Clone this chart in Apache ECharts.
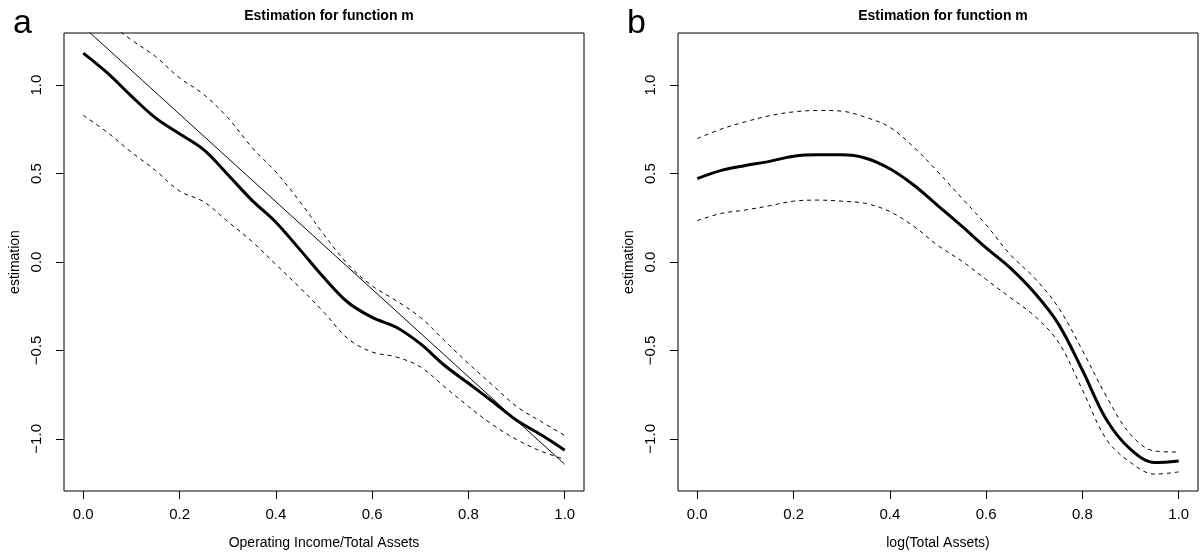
<!DOCTYPE html>
<html>
<head>
<meta charset="utf-8">
<script src="https://cdn.jsdelivr.net/npm/echarts@6/dist/echarts.min.js"></script>
<style>
  html, body { margin: 0; padding: 0; background: #fff; }
  #main { width: 1201px; height: 555px; }
</style>
</head>
<body>
<div id="main"></div>
<script>
// x positions where the curves were read (both panels)
const xs = [0, 0.05, 0.1, 0.15, 0.2, 0.25, 0.3, 0.35, 0.4, 0.45, 0.5,
            0.55, 0.6, 0.65, 0.7, 0.75, 0.8, 0.85, 0.9, 0.95, 1];

// panel a: Operating Income/Total Assets
const aFit   = [1.181, 1.069, 0.938, 0.815, 0.725, 0.635, 0.495, 0.350, 0.225, 0.070, -0.089,
                -0.229, -0.313, -0.369, -0.462, -0.584, -0.686, -0.789, -0.895, -0.976, -1.064];
const aUpper = [1.47, 1.36, 1.256, 1.162, 1.041, 0.948, 0.817, 0.649, 0.509, 0.341, 0.154,
                -0.014, -0.135, -0.219, -0.313, -0.444, -0.574, -0.696, -0.817, -0.901, -0.981];
const aLower = [0.830, 0.733, 0.621, 0.518, 0.401, 0.341, 0.229, 0.117, -0.014, -0.145, -0.285,
                -0.434, -0.509, -0.537, -0.593, -0.705, -0.817, -0.920, -1.004, -1.069, -1.116];
const aLineX = [0, 1];
const aLineY = [1.331, -1.144];

// panel b: log(Total Assets)
const bFit   = [0.472, 0.518, 0.546, 0.569, 0.598, 0.606, 0.606, 0.587, 0.527, 0.434, 0.318,
                0.201, 0.080, -0.033, -0.173, -0.350, -0.612, -0.892, -1.060, -1.134, -1.125];
const bUpper = [0.698, 0.752, 0.793, 0.827, 0.849, 0.857, 0.853, 0.818, 0.762, 0.649, 0.509,
                0.360, 0.210, 0.042, -0.089, -0.257, -0.500, -0.761, -0.976, -1.069, -1.075];
const bLower = [0.234, 0.275, 0.294, 0.318, 0.344, 0.350, 0.344, 0.331, 0.285, 0.201, 0.093,
                0.004, -0.099, -0.201, -0.304, -0.453, -0.723, -1.004, -1.134, -1.200, -1.187];

const xTicks = [0, 0.2, 0.4, 0.6, 0.8, 1.0];
const yTicks = [-1, -0.5, 0, 0.5, 1];

const FONT = 'Liberation Sans, Arial, Helvetica, sans-serif';
const fmt = v => (v < 0 ? '\u2212' : '') + Math.abs(v).toFixed(1);
const pairs = (x, y) => x.map((v, i) => [v, y[i]]);

var chart = echarts.init(document.getElementById('main'), null, { renderer: 'canvas' });

function xAxis(idx, name) {
  return {
    type: 'value', gridIndex: idx, min: -0.04, max: 1.04,
    name: name, nameLocation: 'middle', nameGap: 45,
    nameTextStyle: { fontFamily: FONT, fontSize: 14, color: '#000' },
    axisLine: { show: false, onZero: false },
    axisTick: { show: true, length: 8, customValues: xTicks, lineStyle: { color: '#000' } },
    axisLabel: { customValues: xTicks, formatter: fmt, margin: 16,
                 fontFamily: FONT, fontSize: 15, color: '#000' },
    splitLine: { show: false }
  };
}
function yAxis(idx) {
  return {
    type: 'value', gridIndex: idx, min: -1.295, max: 1.295,
    name: 'estimation', nameLocation: 'middle', nameGap: 42,
    nameTextStyle: { fontFamily: FONT, fontSize: 14, color: '#000' },
    axisLine: { show: false, onZero: false },
    axisTick: { show: true, length: 8, customValues: yTicks, lineStyle: { color: '#000' } },
    axisLabel: { customValues: yTicks, formatter: fmt, margin: 20, rotate: 90,
                 fontFamily: FONT, fontSize: 15, color: '#000' },
    splitLine: { show: false }
  };
}
function line(idx, data, width, dashed) {
  return {
    type: 'line', xAxisIndex: idx, yAxisIndex: idx, data: data,
    showSymbol: false, smooth: 0.35, clip: true, silent: true,
    lineStyle: { color: '#000', width: width, type: dashed ? [4, 4] : 'solid' }
  };
}

var option = {
  animation: false,
  backgroundColor: '#fff',
  title: [
    { text: 'Estimation for function m', left: 324, top: 4, textAlign: 'center',
      textStyle: { fontFamily: FONT, fontSize: 14, fontWeight: 'bold', color: '#000' } },
    { text: 'Estimation for function m', left: 938, top: 4, textAlign: 'center',
      textStyle: { fontFamily: FONT, fontSize: 14, fontWeight: 'bold', color: '#000' } },
    { text: 'a', left: 8, top: 2,
      textStyle: { fontFamily: FONT, fontSize: 34, fontWeight: 'normal', color: '#000' } },
    { text: 'b', left: 622, top: 2,
      textStyle: { fontFamily: FONT, fontSize: 34, fontWeight: 'normal', color: '#000' } }
  ],
  grid: [
    { left: 64, top: 33, width: 520, height: 462, show: true, borderColor: '#000', borderWidth: 1 },
    { left: 678, top: 33, width: 520, height: 462, show: true, borderColor: '#000', borderWidth: 1 }
  ],
  xAxis: [xAxis(0, 'Operating Income/Total Assets'), xAxis(1, 'log(Total Assets)')],
  yAxis: [yAxis(0), yAxis(1)],
  series: [
    line(0, pairs(xs, aUpper), 1, true),
    line(0, pairs(xs, aLower), 1, true),
    line(0, pairs(aLineX, aLineY), 1, false),
    line(0, pairs(xs, aFit), 3, false),
    line(1, pairs(xs, bUpper), 1, true),
    line(1, pairs(xs, bLower), 1, true),
    line(1, pairs(xs, bFit), 3, false)
  ]
};

option && chart.setOption(option);
</script>
</body>
</html>
